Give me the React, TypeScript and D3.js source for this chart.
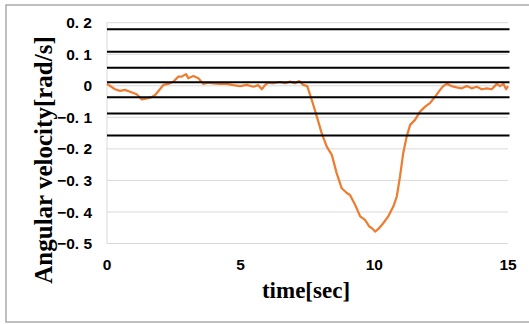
import React from 'react';
import * as d3 from 'd3';

// orange trace
const timeSec = [
  0, 0.3, 0.49, 0.67, 0.86, 1.11, 1.3, 1.49, 1.67, 1.8, 1.98, 2.11, 2.29, 2.48, 2.67, 2.79, 2.96, 3.04,
  3.23, 3.42, 3.6, 3.79, 3.98, 4.23, 4.48, 4.73, 4.98, 5.23, 5.47, 5.66, 5.79, 5.91, 6.03, 6.22, 6.47,
  6.66, 6.85, 7.03, 7.19, 7.34, 7.49, 7.66, 7.85, 8.03, 8.22, 8.41, 8.59, 8.78, 8.97, 9.09, 9.28, 9.47,
  9.65, 9.81, 9.9, 10.03, 10.15, 10.34, 10.52, 10.71, 10.84, 10.96, 11.08, 11.21, 11.34, 11.52, 11.71,
  11.9, 12.08, 12.27, 12.46, 12.58, 12.71, 12.89, 13.08, 13.27, 13.46, 13.64, 13.83, 14.02, 14.21,
  14.39, 14.58, 14.7, 14.83, 14.93, 15,
];
const angVel = [
  0.006, -0.011, -0.016, -0.013, -0.019, -0.027, -0.043, -0.04, -0.036, -0.029, -0.011, 0.003, 0.006,
  0.013, 0.029, 0.029, 0.037, 0.024, 0.031, 0.024, 0.006, 0.01, 0.008, 0.006, 0.006, 0.002, -0.001,
  0.003, -0.003, 0.002, -0.011, 0.002, 0.01, 0.008, 0.012, 0.008, 0.013, 0.008, 0.015, 0.003, -0.001,
  -0.045, -0.098, -0.15, -0.193, -0.219, -0.277, -0.325, -0.34, -0.346, -0.377, -0.414, -0.425,
  -0.446, -0.451, -0.462, -0.454, -0.435, -0.414, -0.383, -0.351, -0.288, -0.214, -0.161, -0.124,
  -0.108, -0.082, -0.066, -0.055, -0.035, -0.013, -0.001, 0.006, -0.001, -0.005, -0.008, -0.001,
  -0.008, -0.003, -0.011, -0.008, -0.011, 0.006, -0.001, 0.006, -0.011, -0.001,
];
// black horizontal reference lines
const refLines = [0.179, 0.108, 0.057, 0.011, -0.036, -0.088, -0.158];

const yTicks = [0.2, 0.1, 0, -0.1, -0.2, -0.3, -0.4, -0.5];
const yTickLabels = ['0. 2', '0. 1', '0', '−0. 1', '−0. 2', '−0. 3', '−0. 4', '−0. 5'];
const xTicks = [0, 5, 10, 15];

const W = 529;
const H = 324;
const plot = { left: 107, right: 508, top: 22.7, bottom: 243.5 };

const App: React.FC = () => {
  const x = d3.scaleLinear().domain([0, 15]).range([plot.left, plot.right]);
  const y = d3.scaleLinear().domain([-0.5, 0.2]).range([plot.bottom, plot.top]);

  const pts: [number, number][] = timeSec.map((t, i) => [t, angVel[i]]);
  const line = d3.line<[number, number]>()
    .x(d => x(d[0]))
    .y(d => y(d[1]));

  const tickFont = '"Liberation Sans", Arial, sans-serif';
  const titleFont = '"Liberation Serif", "Times New Roman", serif';

  return (
    <svg width={W} height={H} style={{ position: 'absolute', left: 0, top: 0, background: '#fff' }}>
      <rect x={6} y={5} width={540} height={317} fill="#fff" stroke="#ababab" strokeWidth={1.5} />

      {/* gridlines */}
      {yTicks.map(v => (
        <line key={v} x1={plot.left} x2={plot.right} y1={y(v)} y2={y(v)} stroke="#d9d9d9" strokeWidth={1} />
      ))}
      <line x1={plot.left} x2={plot.left} y1={plot.top} y2={plot.bottom} stroke="#d9d9d9" strokeWidth={1} />

      <path d={line(pts) ?? ''} fill="none" stroke="#ed7d31" strokeWidth={2.25} strokeLinejoin="round" />

      {refLines.map(v => (
        <line key={v} x1={plot.left} x2={plot.right + 1.5} y1={y(v)} y2={y(v)} stroke="#000" strokeWidth={2} />
      ))}

      {/* y ticks */}
      {yTicks.map((v, i) => (
        <text key={v} x={92} y={y(v)} dy="0.36em" textAnchor="end"
          style={{ fontFamily: tickFont, fontWeight: 700, fontSize: 15.5 }} fill="#000">
          {yTickLabels[i]}
        </text>
      ))}

      {/* x ticks */}
      {xTicks.map(v => (
        <text key={v} x={x(v)} y={270} textAnchor="middle"
          style={{ fontFamily: tickFont, fontWeight: 700, fontSize: 15.5 }} fill="#000">
          {v}
        </text>
      ))}

      <text x={306} y={298} textAnchor="middle"
        style={{ fontFamily: titleFont, fontWeight: 700, fontSize: 23 }} fill="#000">
        time[sec]
      </text>
      <text transform={`translate(52,160) rotate(-90)`} textAnchor="middle"
        style={{ fontFamily: titleFont, fontWeight: 700, fontSize: 25 }} fill="#000">
        Angular velocity[rad/s]
      </text>
    </svg>
  );
};

export default App;
